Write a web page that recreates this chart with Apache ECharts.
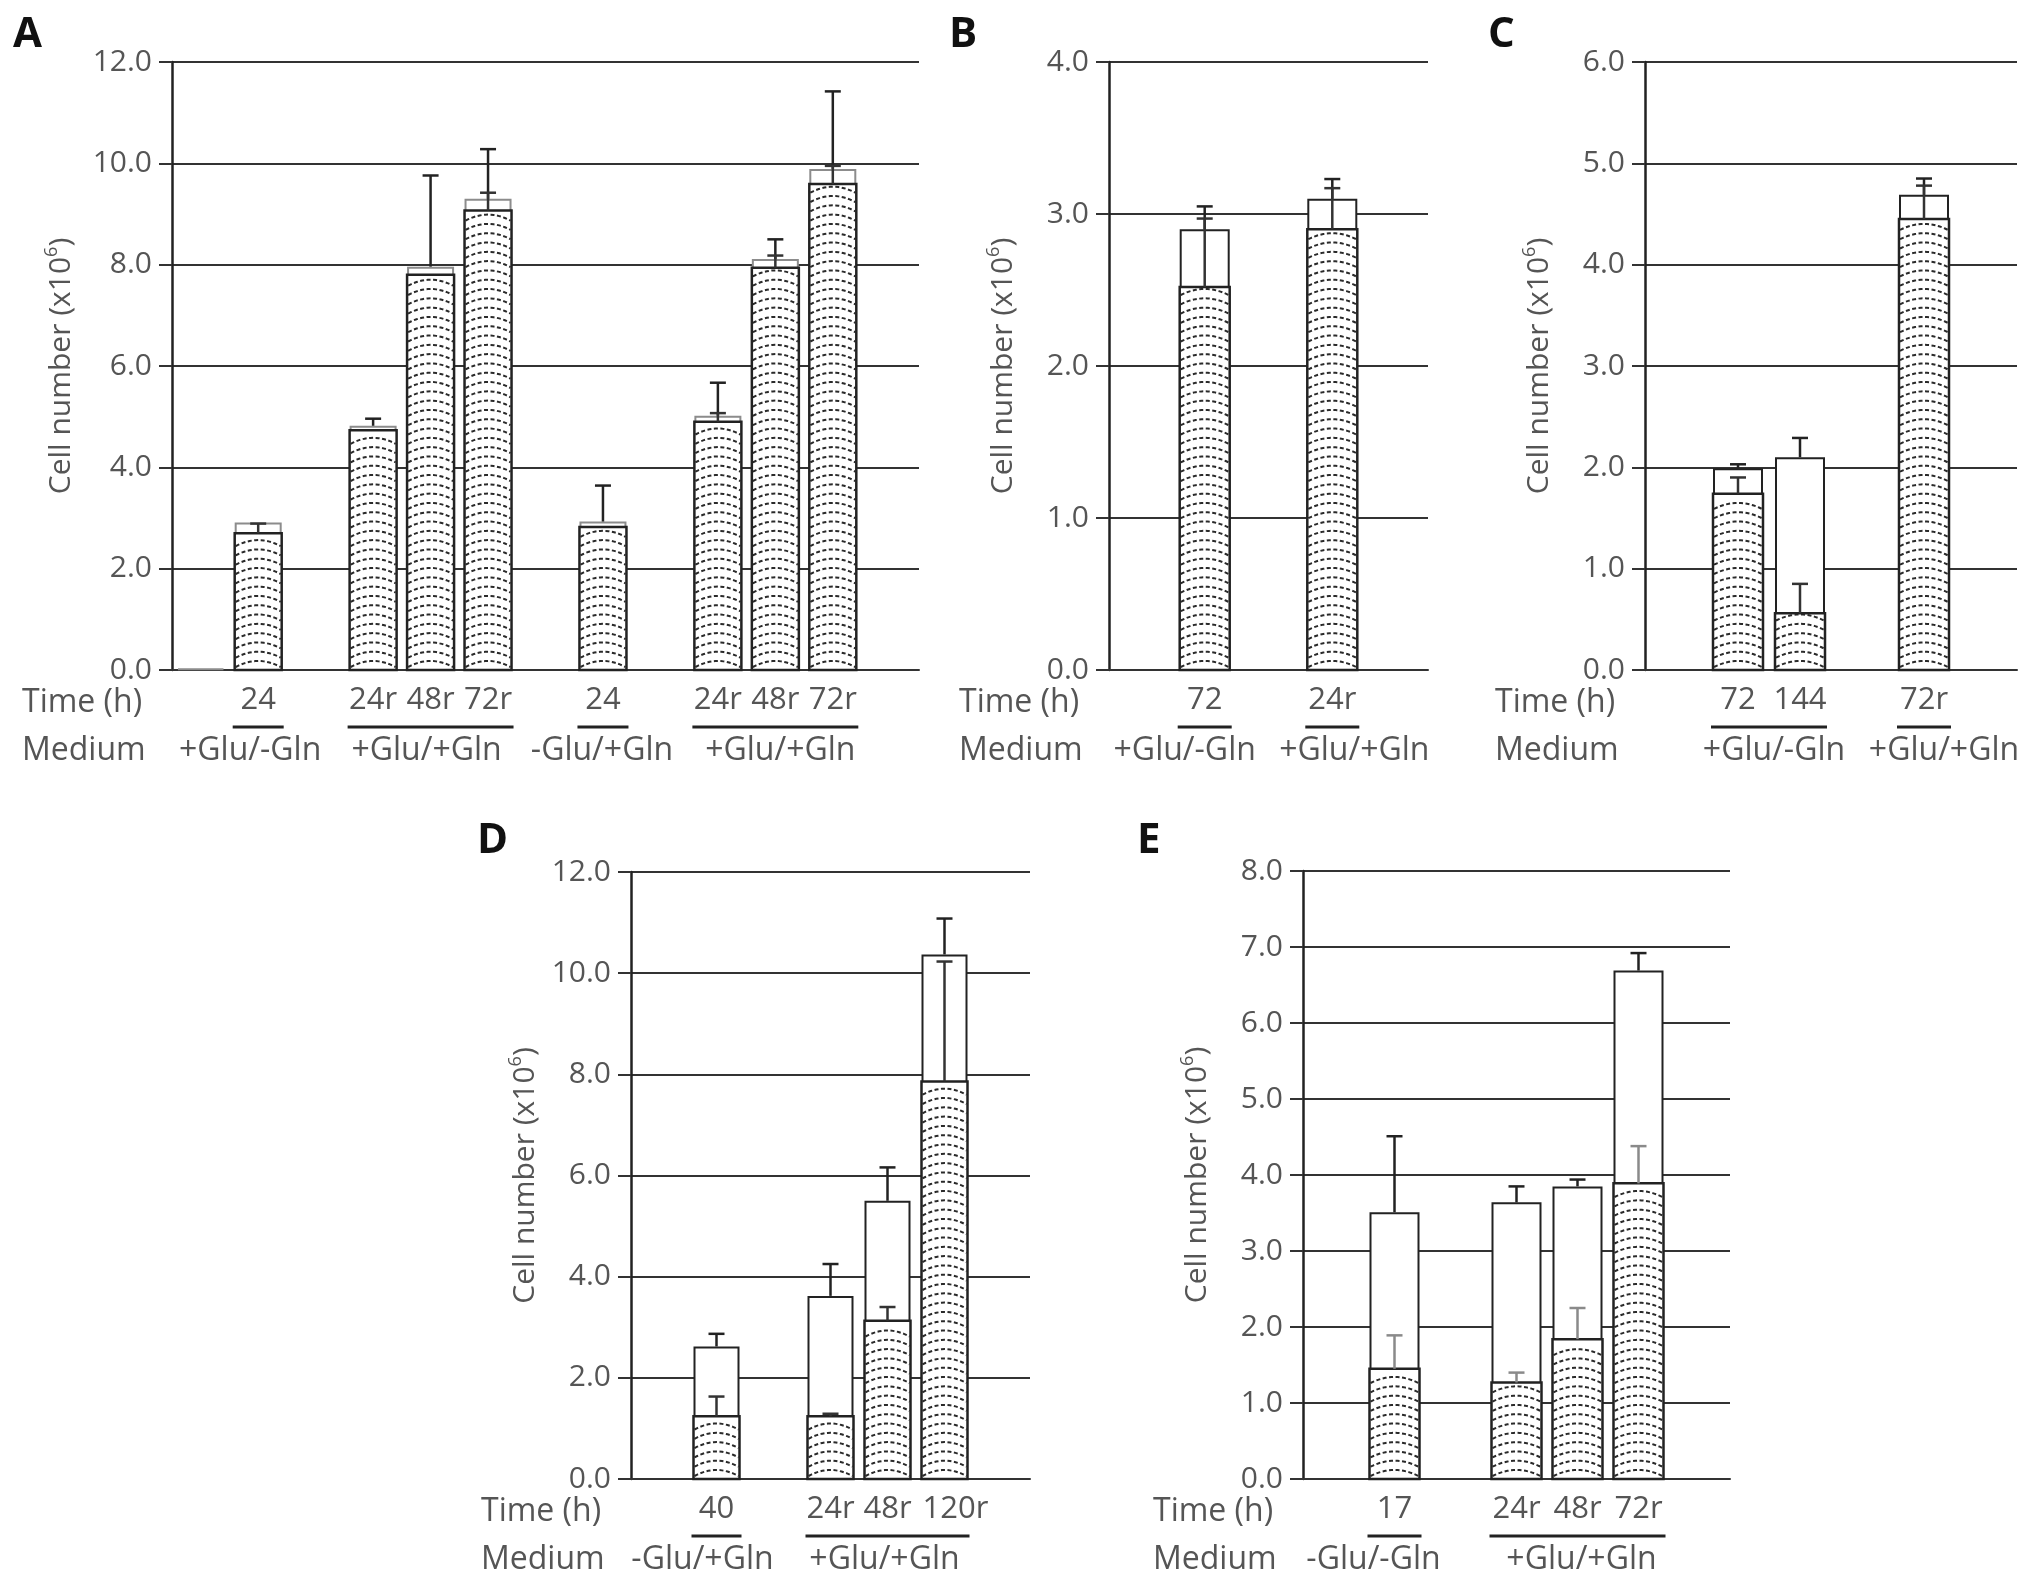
<!DOCTYPE html>
<html>
<head>
<meta charset="utf-8">
<script src="https://cdn.jsdelivr.net/npm/echarts@6/dist/echarts.min.js"></script>
<style>
  html, body { margin: 0; padding: 0; background: #fff; }
  #chart { width: 2031px; height: 1589px; }
</style>
</head>
<body>
<div id="chart"></div>
<script>
// panel A
const timeA = ['', '24', '', '24r', '48r', '72r', '', '24', '', '24r', '48r', '72r', ''];
const totalA = [0.03, 2.91, null, 4.82, 7.96, 9.30, null, 2.93, null, 5.02, 8.11, 9.89, null];
const patternA = [null, 2.70, null, 4.73, 7.80, 9.07, null, 2.82, null, 4.90, 7.94, 9.59, null];
const totalErrA = [null, null, null, 0.14, 1.80, 0.98, null, 0.71, null, 0.65, 0.39, 1.53, null];
const patternErrA = [null, 0.19, null, null, null, 0.35, null, null, null, 0.17, 0.24, 0.36, null];
const groupsA = [[1, 1], [3, 5], [7, 7], [9, 11]];
const mediumA = ['+Glu/-Gln', '+Glu/+Gln', '-Glu/+Gln', '+Glu/+Gln'];

// panel B
const timeB = ['', '72', '', '24r', ''];
const totalB = [null, 2.90, null, 3.10, null];
const patternB = [null, 2.52, null, 2.90, null];
const totalErrB = [null, 0.15, null, 0.13, null];
const patternErrB = [null, 0.45, null, 0.27, null];
const groupsB = [[1, 1], [3, 3]];
const mediumB = ['+Glu/-Gln', '+Glu/+Gln'];

// panel C
const timeC = ['', '72', '144', '', '72r', ''];
const totalC = [null, 1.99, 2.10, null, 4.69, null];
const patternC = [null, 1.74, 0.56, null, 4.45, null];
const totalErrC = [null, 0.04, 0.19, null, 0.16, null];
const patternErrC = [null, 0.16, 0.29, null, 0.33, null];
const groupsC = [[1, 2], [4, 4]];
const mediumC = ['+Glu/-Gln', '+Glu/+Gln'];

// panel D
const timeD = ['', '40', '', '24r', '48r', '120r', ''];
const totalD = [null, 2.62, null, 3.62, 5.50, 10.37, null];
const patternD = [null, 1.24, null, 1.24, 3.13, 7.86, null];
const totalErrD = [null, 0.25, null, 0.63, 0.66, 0.71, null];
const patternErrD = [null, 0.39, null, 0.05, 0.27, 2.37, null];
const groupsD = [[1, 1], [3, 5]];
const mediumD = ['-Glu/+Gln', '+Glu/+Gln'];

// panel E
const timeE = ['', '17', '', '24r', '48r', '72r', ''];
const totalE = [null, 3.51, null, 3.64, 3.85, 6.69, null];
const patternE = [null, 1.45, null, 1.27, 1.84, 3.89, null];
const totalErrE = [null, 1.00, null, 0.21, 0.09, 0.23, null];
const patternErrE = [null, 0.44, null, 0.13, 0.41, 0.49, null];
const groupsE = [[1, 1], [3, 5]];
const mediumE = ['-Glu/-Gln', '+Glu/+Gln'];

const FONT = 'Open Sans';
const TXT = '#555';

const panels = [
  { key: 'A', time: timeA, total: totalA, pattern: patternA, tErr: totalErrA, pErr: patternErrA,
    groups: groupsA, medium: mediumA, shift: [-8, -4, -1, 5], max: 12, step: 2, nameGap: 93,
    grid: { left: 172, top: 62, width: 747, height: 608 }, bw: 47, totalBorder: '#8c8c8c', pErrColor: '#333' },
  { key: 'B', time: timeB, total: totalB, pattern: patternB, tErr: totalErrB, pErr: patternErrB,
    groups: groupsB, medium: mediumB, shift: [-20, 22], max: 4, step: 1, nameGap: 88,
    grid: { left: 1109, top: 62, width: 319, height: 608 }, bw: 50, totalBorder: '#222', pErrColor: '#333' },
  { key: 'C', time: timeC, total: totalC, pattern: patternC, tErr: totalErrC, pErr: patternErrC,
    groups: groupsC, medium: mediumC, shift: [5, 20], max: 6, step: 1, nameGap: 88,
    grid: { left: 1645, top: 62, width: 372, height: 608 }, bw: 50, totalBorder: '#222', pErrColor: '#333' },
  { key: 'D', time: timeD, total: totalD, pattern: patternD, tErr: totalErrD, pErr: patternErrD,
    groups: groupsD, medium: mediumD, shift: [-14, -3], max: 12, step: 2, nameGap: 88, padRight: { 5: 22 },
    grid: { left: 631, top: 872, width: 399, height: 607 }, bw: 46, totalBorder: '#222', pErrColor: '#333' },
  { key: 'E', time: timeE, total: totalE, pattern: patternE, tErr: totalErrE, pErr: patternErrE,
    groups: groupsE, medium: mediumE, shift: [-21, 4], max: 8, step: 1, nameGap: 88,
    grid: { left: 1303, top: 871, width: 427, height: 608 }, bw: 50, totalBorder: '#222', pErrColor: '#8a8a8a' }
];

const titlePos = [[8, 9], [944, 9], [1483, 9], [472, 815], [1132, 815]];

function errData(base, err) {
  const out = [];
  err.forEach((e, i) => { if (e != null && base[i] != null) out.push([i, base[i], e]); });
  return out;
}

function barData(vals) {
  const out = [];
  vals.forEach((v, i) => { if (v != null) out.push([i, v]); });
  return out;
}

// lower, hatched part of a bar: white box with rows of dashed arches
function patternRender(p) {
  return function (params, api) {
    const i = api.value(0), v = api.value(1);
    const b = api.coord([i, 0]);
    const t = api.coord([i, v]);
    const w = p.bw, x0 = b[0] - w / 2;
    const children = [{ type: 'rect', shape: { x: x0, y: t[1], width: w, height: b[1] - t[1] },
      style: { fill: '#fff' } }];
    for (let y = b[1] - 3; y > t[1] + 7; y -= 9.3) {
      const pts = [];
      for (let k = 0; k <= 16; k++) {
        const u = k / 16 * 2 - 1;
        pts.push([x0 + 1 + (w - 2) * k / 16, y - 6 * (1 - u * u)]);
      }
      children.push({ type: 'polyline', shape: { points: pts },
        style: { stroke: '#2a2a2a', lineWidth: 2, lineDash: [4, 2.5], fill: null } });
    }
    children.push({ type: 'rect', shape: { x: x0, y: t[1], width: w, height: b[1] - t[1] },
      style: { fill: null, stroke: '#222', lineWidth: 2.5 } });
    return { type: 'group', children: children };
  };
}

function errRender(color) {
  return function (params, api) {
    const i = api.value(0), v = api.value(1), e = api.value(2);
    const p0 = api.coord([i, v]);
    const p1 = api.coord([i, v + e]);
    const st = { stroke: color, lineWidth: 2.5 };
    return {
      type: 'group',
      children: [
        { type: 'line', shape: { x1: p0[0], y1: p0[1], x2: p1[0], y2: p1[1] }, style: st },
        { type: 'line', shape: { x1: p1[0] - 8, y1: p1[1], x2: p1[0] + 8, y2: p1[1] }, style: st }
      ]
    };
  };
}

function groupRender(p) {
  return function (params, api) {
    const s = api.value(0), e = api.value(1);
    const ps = api.coord([s, 0]);
    const pe = api.coord([e, 0]);
    const half = p.bw / 2 + 2;
    const font = '32px "' + FONT + '"';
    const children = [
      { type: 'line', shape: { x1: ps[0] - half, y1: ps[1] + 57, x2: pe[0] + half, y2: ps[1] + 57 },
        style: { stroke: '#222', lineWidth: 3 } },
      { type: 'text', x: (ps[0] + pe[0]) / 2 + p.shift[params.dataIndex], y: ps[1] + 81,
        style: { text: p.medium[params.dataIndex], fill: TXT, font: font,
                 textAlign: 'center', textVerticalAlign: 'middle' } }
    ];
    if (params.dataIndex === 0) {
      const band = api.size([1, 0])[0];
      const axisX = ps[0] - (s + 0.5) * band;
      children.push(
        { type: 'text', x: axisX - 150, y: ps[1] + 33,
          style: { text: 'Time (h)', fill: TXT, font: font, textAlign: 'left', textVerticalAlign: 'middle' } },
        { type: 'text', x: axisX - 150, y: ps[1] + 81,
          style: { text: 'Medium', fill: TXT, font: font, textAlign: 'left', textVerticalAlign: 'middle' } }
      );
    }
    return { type: 'group', children: children };
  };
}

const option = {
  backgroundColor: '#fff',
  animation: false,
  title: panels.map((p, k) => ({
    text: p.key, left: titlePos[k][0], top: titlePos[k][1],
    textStyle: { fontFamily: FONT, fontWeight: 'bold', fontSize: 42, color: '#111' }
  })),
  grid: panels.map(p => p.grid),
  xAxis: panels.map((p, k) => ({
    type: 'category', gridIndex: k, data: p.time,
    axisLine: { show: true, lineStyle: { color: '#333', width: 2 } },
    axisTick: { show: false },
    axisLabel: {
      interval: 0, margin: 15, fontFamily: FONT, fontSize: 31, color: TXT,
      formatter: (v, i) => (p.padRight && p.padRight[i]) ? '{s|' + v + '}' : v,
      rich: { s: { fontFamily: FONT, fontSize: 31, color: TXT, padding: [0, 0, 0, p.padRight ? p.padRight[5] : 0] } }
    }
  })),
  yAxis: panels.map((p, k) => ({
    type: 'value', gridIndex: k, min: 0, max: p.max, interval: p.step,
    name: 'Cell number (x10{sup|6})', nameLocation: 'middle', nameGap: p.nameGap,
    nameTextStyle: { fontFamily: FONT, fontSize: 30, color: TXT,
      rich: { sup: { fontFamily: FONT, fontSize: 18, color: TXT, verticalAlign: 'top', lineHeight: 36 } } },
    axisLine: { show: true, lineStyle: { color: '#222', width: 2.5 } },
    axisTick: { show: true, length: 13, lineStyle: { color: '#333', width: 2 } },
    axisLabel: { margin: 20, fontFamily: FONT, fontSize: 30, color: TXT, formatter: v => v.toFixed(1) },
    splitLine: { show: true, lineStyle: { color: '#333', width: 2 } }
  })),
  series: []
};

panels.forEach((p, k) => {
  option.series.push({
    type: 'bar', xAxisIndex: k, yAxisIndex: k, data: p.total, barWidth: p.bw,
    itemStyle: { color: '#fff', borderColor: p.totalBorder, borderWidth: 2 }, z: 2
  });
  option.series.push({
    type: 'custom', xAxisIndex: k, yAxisIndex: k, renderItem: patternRender(p),
    data: barData(p.pattern), encode: { x: 0, y: 1 }, z: 3
  });
  option.series.push({
    type: 'custom', xAxisIndex: k, yAxisIndex: k, renderItem: errRender('#222'),
    data: errData(p.total, p.tErr), encode: { x: 0, y: 1 }, z: 4
  });
  option.series.push({
    type: 'custom', xAxisIndex: k, yAxisIndex: k, renderItem: errRender(p.pErrColor),
    data: errData(p.pattern, p.pErr), encode: { x: 0, y: 1 }, z: 5
  });
  option.series.push({
    type: 'custom', xAxisIndex: k, yAxisIndex: k, renderItem: groupRender(p),
    data: p.groups, encode: { x: 0, y: 1 }, clip: false, z: 5
  });
});

const chart = echarts.init(document.getElementById('chart'));
chart.setOption(option);
</script>
</body>
</html>
